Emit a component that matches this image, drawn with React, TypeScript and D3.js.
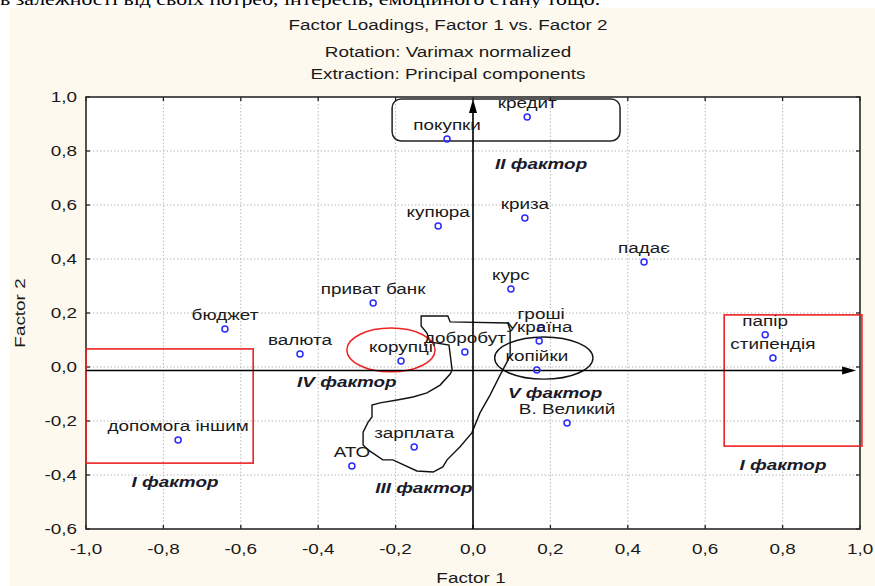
import React from "react";
import * as d3 from "d3";

// factor loadings
const labels = [
  "кредит", "покупки", "купюра", "криза", "падає", "курс", "приват банк",
  "бюджет", "валюта", "корупці", "добробут", "гроші", "Україна", "копійки",
  "В. Великий", "зарплата", "АТО", "допомога іншим", "папір", "стипендія",
];
const factor1 = [
  0.14, -0.067, -0.09, 0.134, 0.442, 0.098, -0.258,
  -0.641, -0.447, -0.186, -0.021, 0.176, 0.171, 0.165,
  0.243, -0.152, -0.313, -0.762, 0.755, 0.775,
];
const factor2 = [
  0.926, 0.844, 0.522, 0.552, 0.389, 0.289, 0.237,
  0.141, 0.048, 0.022, 0.056, 0.144, 0.096, -0.011,
  -0.207, -0.296, -0.367, -0.27, 0.119, 0.033,
];

const xTicks = [-1, -0.8, -0.6, -0.4, -0.2, 0, 0.2, 0.4, 0.6, 0.8, 1];
const yTicks = [-0.6, -0.4, -0.2, 0, 0.2, 0.4, 0.6, 0.8, 1];

// hand drawn outline around добробут / зарплата (data units)
const blobX = [
  -0.134, -0.065, -0.059, 0.09, 0.096, 0.096, 0.07, 0.044, 0.018, -0.003,
  -0.034, -0.067, -0.078, -0.103, -0.145, -0.207, -0.233, -0.271, -0.284,
  -0.284, -0.271, -0.261, -0.261, -0.24, -0.196, -0.155, -0.119, -0.085,
  -0.059, -0.054, -0.062, -0.111, -0.119, -0.134,
];
const blobY = [
  0.189, 0.189, 0.167, 0.163, 0.137, 0.041, -0.03, -0.104, -0.17, -0.244,
  -0.296, -0.344, -0.37, -0.389, -0.385, -0.344, -0.344, -0.307, -0.289,
  -0.241, -0.204, -0.185, -0.141, -0.133, -0.122, -0.111, -0.096, -0.067,
  -0.026, -0.011, 0.081, 0.093, 0.126, 0.152,
];

const factorNames = ["II фактор", "IV фактор", "V фактор", "III фактор", "I фактор", "I фактор"];
const factorX = [0.176, -0.326, 0.212, -0.127, -0.77, 0.801];
const factorY = [0.733, -0.074, -0.115, -0.467, -0.444, -0.381];

const fmt = (v: number) => d3.format(".1f")(v).replace(".", ",").replace("−", "-");

const font = "'Liberation Sans', Arial, sans-serif";
const SX = 1.26; // the screenshot is stretched sideways

type TP = {
  x: number; y: number; anchor?: string; size?: number; bold?: boolean;
  rotate?: number; children: React.ReactNode;
};
const T = ({ x, y, anchor = "middle", size = 15, bold, rotate, children }: TP) => (
  <text
    transform={`translate(${x},${y})${rotate ? ` rotate(${rotate})` : ""} scale(${SX},1)`}
    textAnchor={anchor}
    fontSize={size}
    fontFamily={font}
    fontWeight={bold ? "bold" : "normal"}
    fontStyle={bold ? "italic" : "normal"}
    fill={bold ? "#1a1a2a" : "#1a1a1a"}
  >
    {children}
  </text>
);

export default function App() {
  const width = 875;
  const height = 586;
  const x = d3.scaleLinear().domain([-1, 1]).range([86, 860]);
  const y = d3.scaleLinear().domain([-0.6, 1]).range([529, 97]);

  const blob = d3.line<number>()
    .x((i) => x(blobX[i]))
    .y((i) => y(blobY[i]))
    .curve(d3.curveLinearClosed)(blobX.map((_, i) => i));

  const ax0 = y(-0.013);

  return (
    <svg width={width} height={height} style={{ position: "absolute", left: 0, top: 0 }}>
      <rect x={0} y={0} width={width} height={height} fill="#fff" />
      <text transform={`translate(0,5) scale(${SX},1)`} fontFamily="'Liberation Serif', serif" fontSize={17.3} fill="#000">
        в залежності від своїх потреб, інтересів, емоційного стану тощо.
      </text>
      <rect x={10} y={8} width={width - 10} height={height - 8} fill="#fef9ef" />

      <T x={448} y={30}>Factor Loadings, Factor 1 vs. Factor 2</T>
      <T x={448} y={57}>Rotation: Varimax normalized</T>
      <T x={448} y={79}>Extraction: Principal components</T>
      <T x={471} y={583}>Factor 1</T>
      <T x={25} y={313} rotate={-90}>Factor 2</T>

      {/* plot area */}
      <rect x={x(-1)} y={y(1)} width={x(1) - x(-1)} height={y(-0.6) - y(1)} fill="#fff" />
      <g stroke="#b8b8b8" strokeDasharray="1.5,2" strokeWidth={1}>
        {xTicks.slice(1, -1).map((t) => (
          <line key={"gx" + t} x1={x(t)} x2={x(t)} y1={y(1)} y2={y(-0.6)} />
        ))}
        {yTicks.slice(1, -1).map((t) => (
          <line key={"gy" + t} x1={x(-1)} x2={x(1)} y1={y(t)} y2={y(t)} />
        ))}
      </g>
      <g stroke="#222" strokeWidth={1.3}>
        {xTicks.map((t) => (
          <g key={"tx" + t}>
            <line x1={x(t)} x2={x(t)} y1={y(-0.6)} y2={y(-0.6) - 4} />
            <line x1={x(t)} x2={x(t)} y1={y(1)} y2={y(1) + 4} />
          </g>
        ))}
        {yTicks.map((t) => (
          <g key={"ty" + t}>
            <line x1={x(-1)} x2={x(-1) + 4} y1={y(t)} y2={y(t)} />
            <line x1={x(1)} x2={x(1) - 4} y1={y(t)} y2={y(t)} />
          </g>
        ))}
      </g>
      <rect x={x(-1)} y={y(1)} width={x(1) - x(-1)} height={y(-0.6) - y(1)}
        fill="none" stroke="#2a2a2a" strokeWidth={1.6} />

      {xTicks.map((t) => (
        <T key={"lx" + t} x={x(t)} y={554}>{fmt(t)}</T>
      ))}
      {yTicks.map((t) => (
        <T key={"ly" + t} x={77} y={y(t) + 5} anchor="end">{fmt(t)}</T>
      ))}

      {/* annotations */}
      <rect x={x(-0.209)} y={y(0.993)} width={x(0.38) - x(-0.209)} height={y(0.837) - y(0.993)}
        rx={9} fill="none" stroke="#222" strokeWidth={1.5} />
      <path d={blob ?? ""} fill="none" stroke="#111" strokeWidth={1.4} />
      <ellipse cx={x(0.183)} cy={y(0.033)} rx={x(0.127) - x(0)} ry={y(0) - y(0.078)}
        fill="none" stroke="#111" strokeWidth={1.4} />
      <ellipse cx={x(-0.212)} cy={y(0.063)} rx={x(0.114) - x(0)} ry={y(0) - y(0.081)}
        fill="none" stroke="#ee2222" strokeWidth={1.5} />
      <rect x={x(-1)} y={y(0.067)} width={x(-0.568) - x(-1)} height={y(-0.356) - y(0.067)}
        fill="none" stroke="#ee2222" strokeWidth={1.6} />
      <rect x={x(0.649)} y={y(0.193)} width={x(1.005) - x(0.649)} height={y(-0.293) - y(0.193)}
        fill="none" stroke="#ee2222" strokeWidth={1.6} />

      {/* axes arrows */}
      <g stroke="#000" strokeWidth={1.6}>
        <line x1={x(0)} x2={x(0)} y1={y(-0.6)} y2={y(1) + 6} />
        <line x1={x(-1)} x2={x(0.98)} y1={ax0} y2={ax0} />
      </g>
      <path d={`M${x(0)},${y(1) + 2} L${x(0) - 4},${y(1) + 16} L${x(0) + 4},${y(1) + 16} Z`} fill="#000" />
      <path d={`M${x(0.99)},${ax0} L${x(0.99) - 14},${ax0 - 4} L${x(0.99) - 14},${ax0 + 4} Z`} fill="#000" />

      {/* points */}
      <g fill="none" stroke="#2a2aff" strokeWidth={1.5}>
        {labels.map((l, i) => (
          <circle key={"p" + i} cx={x(factor1[i])} cy={y(factor2[i])} r={3} />
        ))}
      </g>
      {labels.map((l, i) => (
        <T key={"t" + i} x={x(factor1[i])} y={y(factor2[i]) - 9}>{l}</T>
      ))}

      {factorNames.map((f, i) => (
        <T key={"f" + i} x={x(factorX[i])} y={y(factorY[i])} bold size={15}>{f}</T>
      ))}
    </svg>
  );
}
